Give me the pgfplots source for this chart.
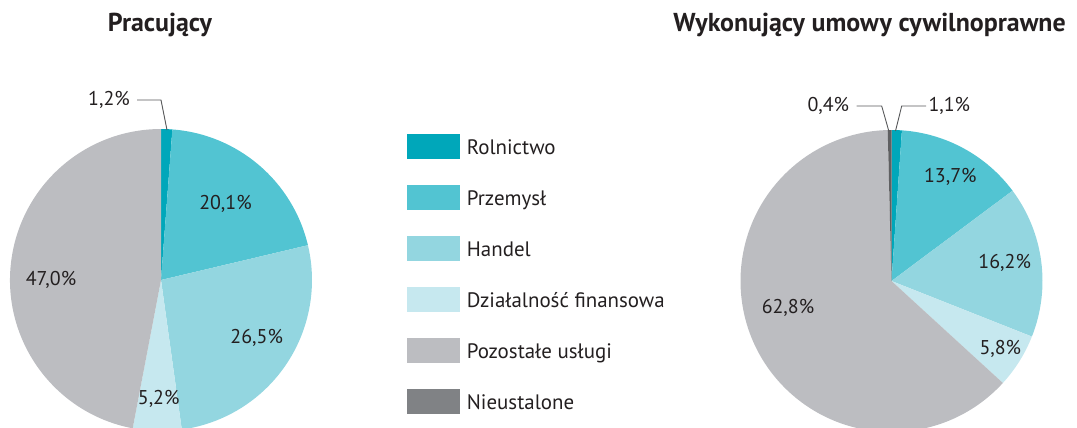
\documentclass[border=0pt]{standalone}
\usepackage{pgfplots}
\pgfplotsset{compat=1.18}
\usepackage{fontspec}
\setmainfont{PT Sans}
\definecolor{rol}{HTML}{00A7BA}
\definecolor{prz}{HTML}{52C4D2}
\definecolor{han}{HTML}{93D6E0}
\definecolor{fin}{HTML}{C6E8EF}
\definecolor{poz}{HTML}{BCBDC1}
\definecolor{nie}{HTML}{808285}
\definecolor{niedark}{HTML}{5F6062}
\definecolor{txt}{HTML}{231F20}
\definecolor{lead}{HTML}{58595B}
% cx, cy, r, start (cumulative %), value (%), colour
\newcommand\slice[6]{%
  \fill[#6] (axis cs:#1,#2) -- ++({90-3.6*(#4)}:#3 bp)
    arc[start angle={90-3.6*(#4)}, delta angle={-3.6*(#5)}, radius=#3 bp] -- cycle;}
\newcommand\pct{\fontsize{20}{22}\selectfont\color{txt}}
\newcommand\leg{\fontsize{21}{23}\selectfont\color{txt}}
\begin{document}
\begin{tikzpicture}
\begin{axis}[
  width=1077bp, height=427bp, scale only axis,
  xmin=0, xmax=1077, ymin=0, ymax=427, y dir=reverse,
  axis lines=none, clip=true]
\path (axis cs:0,0) rectangle (axis cs:1077,427);
% --- Pracujący ---
\slice{161}{280}{151}{0}{1.2}{rol}
\slice{161}{280}{151}{1.2}{20.1}{prz}
\slice{161}{280}{151}{21.3}{26.5}{han}
\slice{161}{280}{151}{47.8}{5.2}{fin}
\slice{161}{280}{151}{53.0}{47.0}{poz}
% --- Wykonujący umowy cywilnoprawne ---
\slice{891.5}{281}{151}{0}{1.1}{rol}
\slice{891.5}{281}{151}{1.1}{13.7}{prz}
\slice{891.5}{281}{151}{14.8}{16.2}{han}
\slice{891.5}{281}{151}{31.0}{5.8}{fin}
\slice{891.5}{281}{151}{36.8}{62.8}{poz}
\slice{891.5}{281}{151}{99.6}{0.4}{niedark}
% leader lines
\draw[lead, line width=0.9bp] (axis cs:137,100) -- (axis cs:161,100) -- (axis cs:167,130);
\draw[lead, line width=0.9bp] (axis cs:856.7,106) -- (axis cs:881.7,106) -- (axis cs:888.8,131);
\draw[lead, line width=0.9bp] (axis cs:926,106) -- (axis cs:901.7,106) -- (axis cs:895.5,131);
% titles
\node[anchor=base, font=\fontsize{26}{28}\selectfont\bfseries, txt] at (axis cs:160,31.7) {Pracujący};
\node[anchor=base, font=\fontsize{26}{28}\selectfont\bfseries, txt] at (axis cs:869.5,31.7) {Wykonujący umowy cywilnoprawne};
% percentage labels
\node[anchor=base east, inner sep=0] at (axis cs:130,105) {\pct 1,2\%};
\node[anchor=base, inner sep=0] at (axis cs:225.5,209) {\pct 20,1\%};
\node[anchor=base, inner sep=0] at (axis cs:51,285) {\pct 47,0\%};
\node[anchor=base, inner sep=0] at (axis cs:256.7,343) {\pct 26,5\%};
\node[anchor=base, inner sep=0] at (axis cs:158.7,404) {\pct 5,2\%};
\node[anchor=base east, inner sep=0] at (axis cs:849.3,111.7) {\pct 0,4\%};
\node[anchor=base west, inner sep=0] at (axis cs:928.3,111.7) {\pct 1,1\%};
\node[anchor=base, inner sep=0] at (axis cs:950.3,182.7) {\pct 13,7\%};
\node[anchor=base, inner sep=0] at (axis cs:1004.7,268) {\pct 16,2\%};
\node[anchor=base, inner sep=0] at (axis cs:1000.3,354) {\pct 5,8\%};
\node[anchor=base, inner sep=0] at (axis cs:788,313) {\pct 62,8\%};
% legend
\fill[rol] (axis cs:407,134.3) rectangle (axis cs:460,158.7);
\fill[prz] (axis cs:407,185.3) rectangle (axis cs:460,209.7);
\fill[han] (axis cs:407,236.3) rectangle (axis cs:460,260.7);
\fill[fin] (axis cs:407,287.3) rectangle (axis cs:460,311.7);
\fill[poz] (axis cs:407,338.3) rectangle (axis cs:460,362.7);
\fill[nie] (axis cs:407,389.3) rectangle (axis cs:460,413.7);
\node[anchor=base west, inner sep=0] at (axis cs:466.7,154.3) {\leg Rolnictwo};
\node[anchor=base west, inner sep=0] at (axis cs:466.7,205.3) {\leg Przemysł};
\node[anchor=base west, inner sep=0] at (axis cs:466.7,256.3) {\leg Handel};
\node[anchor=base west, inner sep=0] at (axis cs:466.7,307.3) {\leg Działalność finansowa};
\node[anchor=base west, inner sep=0] at (axis cs:466.7,358.3) {\leg Pozostałe usługi};
\node[anchor=base west, inner sep=0] at (axis cs:466.7,409.3) {\leg Nieustalone};
\end{axis}
\end{tikzpicture}
\end{document}
